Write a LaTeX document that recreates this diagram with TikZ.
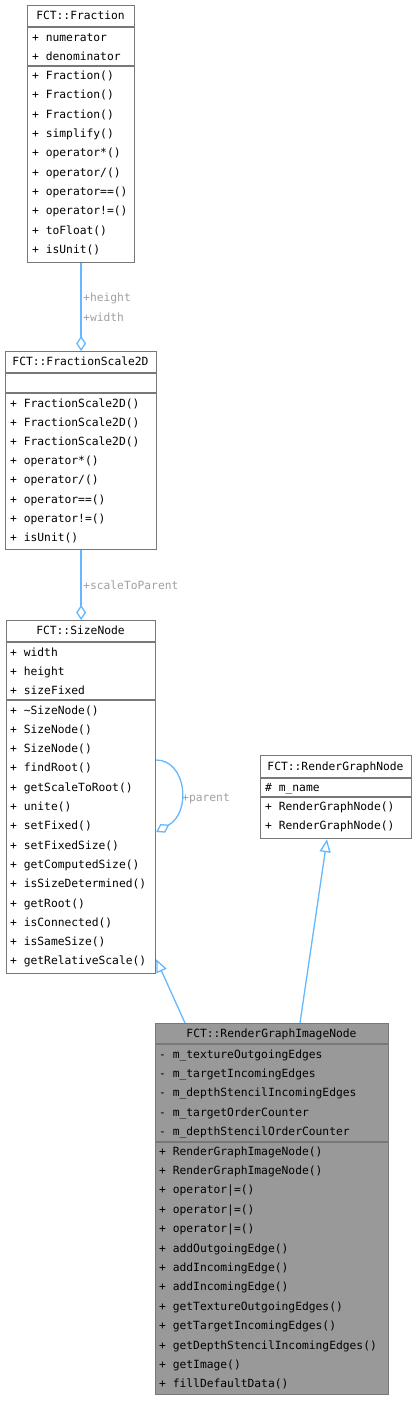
\documentclass[tikz,border=0pt]{standalone}
\usepackage{fontspec}
\setmonofont{DejaVu Sans Mono}
\usetikzlibrary{arrows.meta,calc}
\definecolor{edgeblue}{HTML}{63B8FF}
\definecolor{labelgray}{HTML}{A0A0A0}
\definecolor{boxgray}{HTML}{787878}
\definecolor{fillgray}{HTML}{999999}

\tikzset{
  classbox/.style={draw=boxgray, line width=1.2pt, fill=white, rectangle, inner sep=0pt, anchor=north west},
  member/.style={anchor=west, inner sep=0pt, font=\ttfamily\fontsize{11.3}{12}\selectfont, text height=8pt, text depth=2pt},
  classtitle/.style={member, anchor=center},
  edgelabel/.style={member, text=labelgray},
  sepline/.style={draw=boxgray, line width=1.2pt},
  conn/.style={draw=edgeblue, line width=1.3pt},
}

\begin{document}
\begin{tikzpicture}[x=1pt, y=-1pt]
    \useasboundingbox (0,0) rectangle (416,1401);

    % FCT::Fraction
    \node[classbox, minimum width=107, minimum height=257] (fraction) at (27,5) {};
    \node[classtitle] (fractiontitle) at (80.5,16) {FCT::Fraction};
    \draw[sepline] (fraction.west |- 0,27) -- (fraction.east |- 0,27);
    \draw[sepline] (fraction.west |- 0,66) -- (fraction.east |- 0,66);
    \foreach \m [count=\i from 0] in {numerator,denominator}
        \node[member] at (32,{38+19.3*\i}) {+ \m};
    \foreach \m [count=\i from 0] in {Fraction(),Fraction(),Fraction(),simplify(),operator*(),
        operator/(),operator==(),operator!=(),toFloat(),isUnit()}
        \node[member] at (32,{76.6+19.3*\i}) {+ \m};

    % FCT::FractionScale2D
    \node[classbox, minimum width=151, minimum height=198] (fs2d) at (5,351) {};
    \node[classtitle] (fs2dtitle) at (80.5,362) {FCT::FractionScale2D};
    \draw[sepline] (fs2d.west |- 0,373) -- (fs2d.east |- 0,373);
    \draw[sepline] (fs2d.west |- 0,393) -- (fs2d.east |- 0,393);
    \foreach \m [count=\i from 0] in {FractionScale2D(),FractionScale2D(),FractionScale2D(),
        operator*(),operator/(),operator==(),operator!=(),isUnit()}
        \node[member] at (10,{404+19.2*\i}) {+ \m};

    % FCT::SizeNode
    \node[classbox, minimum width=149, minimum height=353] (sizenode) at (6,620) {};
    \node[classtitle] (sizenodetitle) at (80.5,631) {FCT::SizeNode};
    \draw[sepline] (sizenode.west |- 0,642) -- (sizenode.east |- 0,642);
    \draw[sepline] (sizenode.west |- 0,700) -- (sizenode.east |- 0,700);
    \foreach \m [count=\i from 0] in {width,height,sizeFixed}
        \node[member] at (10,{653+19.3*\i}) {+ \m};
    \foreach \m [count=\i from 0] in {\textasciitilde SizeNode(),SizeNode(),SizeNode(),findRoot(),
        getScaleToRoot(),unite(),setFixed(),setFixedSize(),getComputedSize(),
        isSizeDetermined(),getRoot(),isConnected(),isSameSize(),getRelativeScale()}
        \node[member] at (10,{711+19.3*\i}) {+ \m};

    % FCT::RenderGraphNode
    \node[classbox, minimum width=151, minimum height=83] (rgnode) at (260,755) {};
    \node[classtitle] (rgnodetitle) at (335.5,767) {FCT::RenderGraphNode};
    \draw[sepline] (rgnode.west |- 0,778) -- (rgnode.east |- 0,778);
    \draw[sepline] (rgnode.west |- 0,797) -- (rgnode.east |- 0,797);
    \node[member] at (265,788) {\# m\_name};
    \foreach \i in {0,1}
        \node[member] at (265,{807+19.3*\i}) {+ RenderGraphNode()};

    % FCT::RenderGraphImageNode
    \node[classbox, fill=fillgray, minimum width=233, minimum height=371] (imgnode) at (155,1023) {};
    \node[classtitle] (imgnodetitle) at (271.5,1034) {FCT::RenderGraphImageNode};
    \draw[sepline] (imgnode.west |- 0,1044) -- (imgnode.east |- 0,1044);
    \draw[sepline] (imgnode.west |- 0,1142) -- (imgnode.east |- 0,1142);
    \foreach \m [count=\i from 0] in {m\_textureOutgoingEdges,m\_targetIncomingEdges,
        m\_depthStencilIncomingEdges,m\_targetOrderCounter,m\_depthStencilOrderCounter}
        \node[member] at (159,{1055+19.4*\i}) {- \m};
    \foreach \m [count=\i from 0] in {RenderGraphImageNode(),RenderGraphImageNode(),
        operator|=(),operator|=(),operator|=(),addOutgoingEdge(),addIncomingEdge(),
        addIncomingEdge(),getTextureOutgoingEdges(),getTargetIncomingEdges(),
        getDepthStencilIncomingEdges(),getImage(),fillDefaultData()}
        \node[member] at (159,{1152+19.4*\i}) {+ \m};

    % aggregations
    \draw[conn, -{Diamond[open, width=10pt, length=15pt]}] (fraction.south) -- (fs2d.north);
    \node[edgelabel] (lblheight) at (83,298) {+height};
    \node[edgelabel] (lblwidth) at (83,318) {+width};
    \draw[conn, -{Diamond[open, width=10pt, length=15pt]}] (fs2d.south) -- (sizenode.north);
    \node[edgelabel] (lblscale) at (83,586) {+scaleToParent};
    \draw[conn, -{Diamond[open, width=10pt, length=15pt]}] (sizenode.east |- 0,760)
        .. controls (186,760) and (192,812) .. (sizenode.east |- 0,832);
    \node[edgelabel] (lblparent) at (182,798) {+parent};

    % inheritance
    \draw[conn, -{Triangle[open, width=11pt, length=13pt]}]
        ($(imgnode.north west)+(30,0)$) -- ($(sizenode.south east)+(0,-15)$);
    \draw[conn, -{Triangle[open, width=11pt, length=13pt]}]
        ($(imgnode.north west)+(145,0)$) -- ($(rgnode.south west)+(67,0)$);
\end{tikzpicture}
\end{document}
